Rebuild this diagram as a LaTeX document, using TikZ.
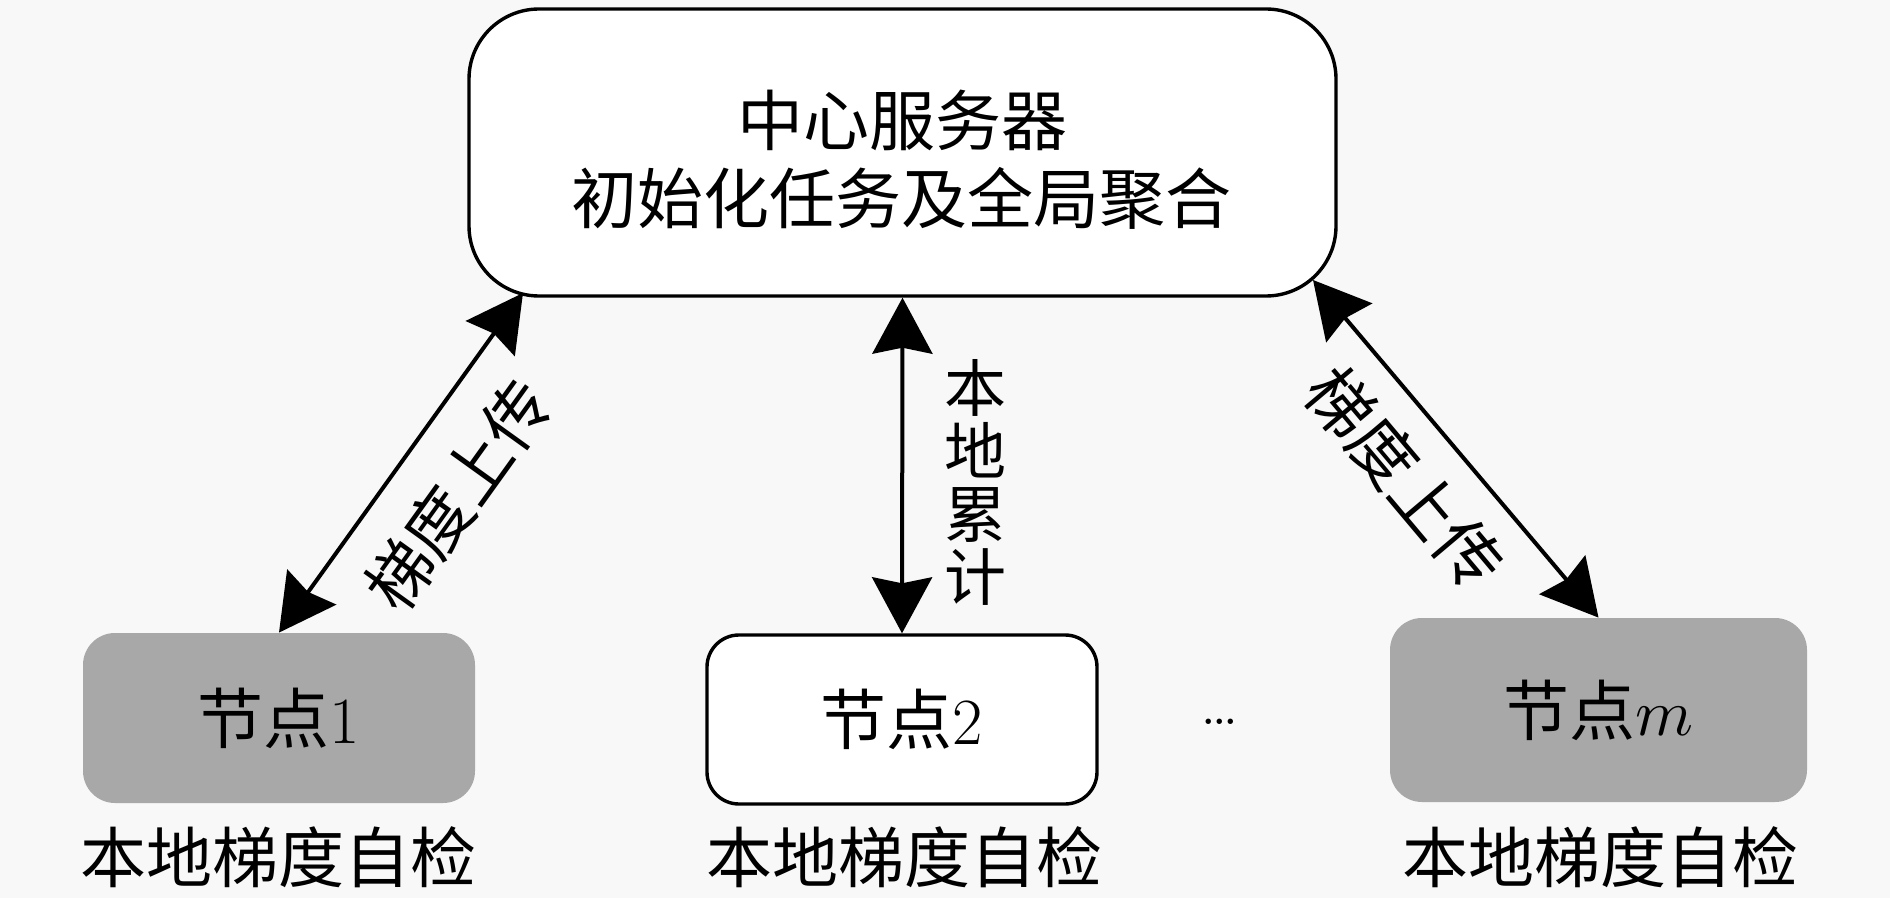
\documentclass[tikz,border=0pt]{standalone}
\usepackage{fontspec}
\DeclareFontShape{OML}{cmm}{m}{it}{<->cmmi10}{\skewchar\font'177}
\newfontfamily\cjk{Noto Sans CJK SC}
\usetikzlibrary{arrows.meta}
\definecolor{bgcol}{RGB}{248,248,248}
\definecolor{nodegray}{RGB}{168,168,168}
\begin{document}
\begin{tikzpicture}[x=0.5pt,y=-0.5pt,
  txt/.style={font=\fontsize{33}{39}\selectfont, inner sep=0pt, align=center},
  srvbox/.style={draw, line width=1.7pt, rounded corners=35pt, fill=white,
    minimum width=433.5pt, minimum height=143.5pt, inner sep=0pt},
  graybox/.style={fill=nodegray, rounded corners=16pt, inner sep=0pt,
    font=\fontsize{33}{39}\selectfont},
  whitebox/.style={draw, line width=1.7pt, fill=white, rounded corners=16pt, inner sep=0pt,
    font=\fontsize{33}{39}\selectfont},
  conn/.style={line width=2pt, {Stealth[length=28pt,width=30pt,inset=3pt]}-{Stealth[length=28pt,width=30pt,inset=3pt]}}
]
\fill[bgcol] (0,0) rectangle (1890,898);
\useasboundingbox (0,0) rectangle (1890,898);

\node[srvbox] (srv) at (902.5,152.5) {};
\node[txt] (srvt1) at (902,120) {\cjk 中心服务器};
\node[txt] (srvt2) at (901,198) {\cjk 初始化任务及全局聚合};

\node[graybox, minimum width=196pt, minimum height=85pt] (n1) at (279,718) {{\cjk 节点}1};
\node[whitebox, minimum width=195pt, minimum height=84.5pt] (n2) at (902,719.5) {{\cjk 节点}2};
\node[graybox, minimum width=208.5pt, minimum height=92pt] (nm) at (1598.5,710) {{\cjk 节点}$m$};

\node[txt] (l1) at (278,857) {\cjk 本地梯度自检};
\node[txt] (l2) at (904,857) {\cjk 本地梯度自检};
\node[txt] (lm) at (1600,857) {\cjk 本地梯度自检};

\node[inner sep=0pt, font=\fontsize{33}{39}\selectfont] (dots) at (1220,722) {\ldots};

\coordinate (a1) at (523,293);
\coordinate (am) at (1313,280);

\draw[conn] (n1.north) -- (a1);
\draw[conn] (n2.north) -- (srv.south);
\draw[conn] (am) -- (nm.north);

\node[txt, rotate=54.3] (t1) at (458,495) {\cjk 梯度上传};
\node[txt, rotate=-49.9] (tm) at (1405,478) {\cjk 梯度上传};
\node[inner sep=0pt, align=center, font=\fontsize{31}{31.5}\selectfont\cjk] (t2) at (975,482) {本\\地\\累\\计};
\end{tikzpicture}
\end{document}
